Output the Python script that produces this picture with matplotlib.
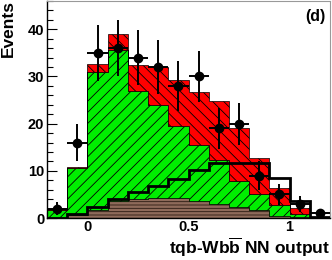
import numpy as np
import matplotlib
matplotlib.use('Agg')
import matplotlib.pyplot as plt
from matplotlib.ticker import MultipleLocator

plt.rcParams['font.family'] = 'Liberation Sans'
plt.rcParams['font.weight'] = 'bold'
plt.rcParams['mathtext.fontset'] = 'custom'
plt.rcParams['mathtext.rm'] = 'Liberation Sans:bold'
plt.rcParams['mathtext.bf'] = 'Liberation Sans:bold'
plt.rcParams['hatch.linewidth'] = 0.6

# bin edges of the NN output
edges = np.round(np.arange(-0.2, 1.21, 0.1), 2)

# stacked background components (bottom -> top)
brown = [0.0, 0.7, 1.6, 3.5, 4.1, 4.3, 4.2, 3.6, 3.0, 2.3, 1.6, 0.5, 0.2, 0.0]
green = [1.8, 9.9, 29.3, 32.1, 22.9, 19.6, 15.3, 11.8, 9.3, 5.5, 3.4, 2.2, 0.6, 0.1]
red = [0.1, 0.2, 1.7, 3.5, 5.5, 8.1, 9.7, 11.4, 12.5, 11.2, 7.8, 3.7, 1.4, 0.2]

# open black histogram
signal = [0.1, 0.9, 2.3, 4.1, 5.5, 6.8, 8.3, 10.1, 11.6, 11.6, 11.6, 8.5, 3.6, 0.3]

# observed data
data = [2, 16, 35, 36, 34, 32, 28, 30, 19, 20, 9, 5, 3, 1]

fig = plt.figure(figsize=(3.32, 2.6), dpi=100)
ax = fig.add_axes([47 / 332, 1 - 218 / 260, 283 / 332, 217 / 260])

b0 = np.zeros(len(brown))
b1 = b0 + np.array(brown)
b2 = b1 + np.array(green)
b3 = b2 + np.array(red)

ax.stairs(b1, edges, baseline=b0, fill=True, facecolor='#8e6a5a',
          edgecolor='#2a1a12', hatch='-----', linewidth=0.5, zorder=2)
ax.stairs(b2, edges, baseline=b1, fill=True, facecolor='#00ee00',
          edgecolor='black', hatch='///', linewidth=0.5, zorder=2)
ax.stairs(b3, edges, baseline=b2, fill=True, facecolor='#ff0000',
          edgecolor='black', hatch='\\\\\\', linewidth=0.5, zorder=2)

ax.stairs(signal, edges, color='black', linewidth=2.0, zorder=3)

centers = 0.5 * (edges[:-1] + edges[1:])
ax.errorbar(centers, data, yerr=np.sqrt(data), xerr=0.05, fmt='o',
            color='black', ms=6, elinewidth=1.4, capsize=0, zorder=4)

ax.set_xlim(-0.2, 1.2)
ax.set_ylim(0, 46)
ax.xaxis.set_major_locator(MultipleLocator(0.5))
ax.xaxis.set_minor_locator(MultipleLocator(0.1))
ax.yaxis.set_major_locator(MultipleLocator(10))
ax.yaxis.set_minor_locator(MultipleLocator(2))
ax.set_xticks([0, 0.5, 1])
ax.set_xticklabels(['0', '0.5', '1'])
ax.tick_params(which='both', direction='in', top=False, right=False,
               labelsize=10.5, width=0.8)
ax.tick_params(which='major', length=7)
ax.tick_params(which='minor', length=4)
ax.tick_params(axis='y', pad=2)
ax.tick_params(axis='x', pad=1.5)

for s in ['top', 'right']:
    ax.spines[s].set_color('#999999')
ax.spines['left'].set_linewidth(1.0)
ax.spines['bottom'].set_linewidth(1.0)

fig.text(0.003, 1.0, 'Events', rotation=90, ha='left', va='top',
         fontsize=12.5, fontweight='bold')
fig.text(330 / 332, 1 - 247 / 260, r'tqb-Wb$\overline{\mathbf{b}}$ NN output',
         ha='right', va='center', fontsize=12.5, fontweight='bold')
ax.text(0.985, 0.965, '(d)', transform=ax.transAxes, ha='right', va='top',
        fontsize=11.5, fontweight='bold')

fig.savefig('out.png', dpi=100)
